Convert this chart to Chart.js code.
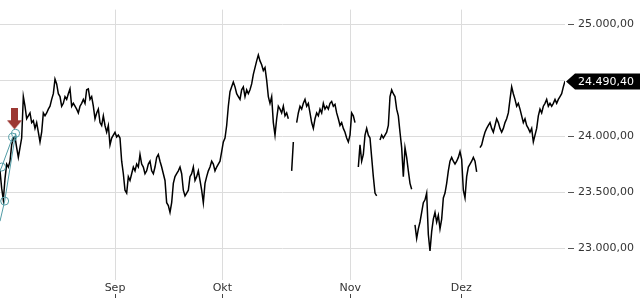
<!DOCTYPE html>
<html>
<head>
<meta charset="utf-8">
<script src="https://cdn.jsdelivr.net/npm/chart.js@4"></script>
<style>
  html, body { margin: 0; padding: 0; background: #fff; }
  #wrap { width: 640px; height: 300px; }
</style>
</head>
<body>
<div id="wrap"><canvas id="kursChart"></canvas></div>
<script>
// Kursverlauf (gleichmäßige Schritte), null = Lücke zwischen Handelstagen
const kurs = [
  23690, 23535, 23431, 23621, 23750, 23724, 23776, 23922, 23983, 23992,
  23897, 23810, 23897, 23983, 24353, 24267, 24155, 24181, 24207, 24121,
  24138, 24069, 24121, 24035, 23948, 24035, 24207, 24181, 24207, 24241,
  24267, 24328, 24379, 24509, 24466, 24379, 24353, 24267, 24293, 24353,
  24328, 24379, 24422, 24267, 24293, 24267, 24241, 24207, 24267, 24293,
  24328, 24293, 24414, 24422, 24328, 24353, 24267, 24155, 24207, 24241,
  24121, 24095, 24181, 24095, 24035, 24095, 23922, 23983, 24009, 24035,
  23992, 24009, 23983, 23776, 23664, 23517, 23491, 23638, 23604, 23664,
  23724, 23690, 23750, 23724, 23836, 23750, 23724, 23664, 23690, 23750,
  23776, 23690, 23664, 23724, 23810, 23836, 23776, 23724, 23664, 23604,
  23405, 23379, 23319, 23405, 23578, 23638, 23664, 23690, 23724, 23664,
  23517, 23466, 23491, 23517, 23638, 23664, 23724, 23604, 23638, 23690,
  23604, 23517, 23405, 23578, 23638, 23690, 23724, 23776, 23750, 23690,
  23724, 23750, 23776, 23862, 23948, 23983, 24095, 24267, 24397, 24440,
  24483, 24440, 24379, 24353, 24328, 24414, 24440, 24353, 24414, 24379,
  24414, 24466, 24552, 24612, 24672, 24724, 24672, 24638, 24586, 24612,
  24500, 24353, 24293, 24353, 24121, 24009, 24155, 24267, 24241, 24207,
  24267, 24181, 24207, 24155, null, 23690, 23948, null, 24121, 24207,
  24267, 24241, 24293, 24328, 24267, 24293, 24207, 24121, 24069, 24155,
  24207, 24181, 24241, 24207, 24293, 24241, 24267, 24241, 24293, 24310,
  24267, 24284, 24207, 24155, 24095, 24121, 24069, 24035, 23983, 23948,
  24009, 24207, 24181, 24121, null, 23724, 23922, 23776, 23836, 24009,
  24069, 24009, 23983, 23810, 23638, 23491, 23466, null, 23966, 24009,
  23983, 24009, 24035, 24095, 24353, 24414, 24379, 24353, 24241, 24181,
  24035, 23897, 23638, 23897, 23810, 23690, 23578, 23526, null, 23207,
  23086, 23172, 23233, 23319, 23405, 23431, 23491, 23121, 22974, 23147,
  23259, 23319, 23233, 23293, 23172, 23259, 23448, 23491, 23578, 23690,
  23776, 23810, 23776, 23750, 23776, 23810, 23862, 23793, 23517, 23448,
  23638, 23724, 23750, 23776, 23810, 23776, 23681, null, 23897, 23922,
  23983, 24035, 24069, 24095, 24121, 24069, 24035, 24095, 24155, 24121,
  24069, 24035, 24069, 24121, 24155, 24207, 24328, 24440, 24379, 24328,
  24267, 24293, 24241, 24181, 24121, 24155, 24095, 24069, 24035, 24069,
  23948, 24009, 24069, 24181, 24241, 24207, 24267, 24293, 24328, 24267,
  24293, 24267, 24293, 24328, 24293, 24328, 24353, 24379, 24440, 24490.40
];

const monatPos = [69, 133.4, 210.2, 276.8];
const monatNamen = ['Sep', 'Okt', 'Nov', 'Dez'];
const yTicks = [23000, 23500, 24000, 24500, 25000];

// Trendlinien links
const trend1X = [0, 2.8, 9.4];
const trend1Y = [23240, 23420, 24025];
const trend2X = [0, 1, 7.6];
const trend2Y = [23690, 23724, 23991];

// Signalpfeil
const pfeilX = [8.7];
const pfeilY = [24155];

function fmt(v) {
    let teile = v.toFixed(2).split('.');
    return teile[0].replace(/\B(?=(\d{3})+(?!\d))/g, '.') + ',' + teile[1];
}

let pfeil = document.createElement('canvas');
pfeil.width = 15;
pfeil.height = 21;
let pc = pfeil.getContext('2d');
pc.fillStyle = '#9c3833';
pc.fillRect(4, 0, 7, 13);
pc.beginPath();
pc.moveTo(0, 12);
pc.lineTo(15, 12);
pc.lineTo(7.5, 21);
pc.closePath();
pc.fill();

const schrift = { family: 'DejaVu Sans', size: 11 };

// Kurslabel rechts + kleine Striche unter den Monatsnamen
const kursLabel = {
    id: 'kursLabel',
    afterDraw(chart) {
        let ctx = chart.ctx;
        let y = chart.scales.y;
        let x = chart.scales.x;
        let wert = kurs[kurs.length - 1];
        let py = Math.round(y.getPixelForValue(wert)) + 0.5;
        let x0 = chart.chartArea.right + 1;
        ctx.save();
        ctx.fillStyle = '#000';
        ctx.beginPath();
        ctx.moveTo(x0, py);
        ctx.lineTo(x0 + 9, py - 8);
        ctx.lineTo(chart.width, py - 8);
        ctx.lineTo(chart.width, py + 8);
        ctx.lineTo(x0 + 9, py + 8);
        ctx.closePath();
        ctx.fill();
        ctx.fillStyle = '#fff';
        ctx.font = '11px "DejaVu Sans"';
        ctx.textBaseline = 'middle';
        ctx.textAlign = 'left';
        ctx.fillText(fmt(wert), x0 + 12, py + 1);
        ctx.strokeStyle = '#444';
        ctx.lineWidth = 1;
        monatPos.forEach(m => {
            let px = Math.round(x.getPixelForValue(m)) + 0.5;
            ctx.beginPath();
            ctx.moveTo(px, 294);
            ctx.lineTo(px, 298);
            ctx.stroke();
        });
        ctx.restore();
    }
};

let ctx = document.getElementById('kursChart').getContext('2d');
let kursChart = new Chart(ctx, {
    type: 'line',
    data: {
        labels: kurs.map((_, i) => i),
        datasets: [{
            label: 'Kurs',
            data: kurs,
            borderColor: '#000',
            borderWidth: 1.5,
            pointRadius: 0,
            tension: 0,
            spanGaps: false,
            order: 2
        }, {
            label: 'Trend 1',
            data: trend1X.map((v, i) => ({ x: v, y: trend1Y[i] })),
            borderColor: 'rgb(82,156,166)',
            borderWidth: 1,
            pointRadius: [0, 4, 4],
            pointBorderColor: 'rgb(82,156,166)',
            pointBackgroundColor: 'rgba(0,0,0,0)',
            pointBorderWidth: 1,
            order: 1
        }, {
            label: 'Trend 2',
            data: trend2X.map((v, i) => ({ x: v, y: trend2Y[i] })),
            borderColor: 'rgb(82,156,166)',
            borderWidth: 1,
            pointRadius: [0, 4, 4],
            pointBorderColor: 'rgb(82,156,166)',
            pointBackgroundColor: 'rgba(0,0,0,0)',
            pointBorderWidth: 1,
            order: 1
        }, {
            label: 'Signal',
            data: pfeilX.map((v, i) => ({ x: v, y: pfeilY[i] })),
            showLine: false,
            pointStyle: pfeil,
            pointRadius: 10,
            order: 0
        }]
    },
    options: {
        responsive: true,
        maintainAspectRatio: false,
        animation: false,
        layout: { padding: 0, autoPadding: false },
        plugins: {
            legend: { display: false },
            tooltip: { enabled: false }
        },
        scales: {
            x: {
                type: 'linear',
                min: 0,
                max: kurs.length - 1,
                afterBuildTicks: s => { s.ticks = monatPos.map(v => ({ value: v })); },
                afterFit: s => { s.height = 20; },
                grid: { color: '#dcdcdc', drawTicks: false },
                border: { display: false },
                ticks: {
                    callback: v => monatNamen[monatPos.indexOf(v)],
                    autoSkip: false,
                    maxRotation: 0,
                    padding: 2,
                    color: '#333',
                    font: schrift
                }
            },
            y: {
                position: 'right',
                min: 22715,
                max: 25130,
                afterBuildTicks: s => { s.ticks = yTicks.map(v => ({ value: v })); },
                afterFit: s => { s.width = 75; },
                grid: {
                    color: '#dcdcdc',
                    tickLength: 10,
                    tickColor: '#555',
                    tickBorderDash: [0, 3, 6, 20]
                },
                border: { display: false },
                ticks: {
                    callback: v => fmt(v),
                    padding: 3,
                    color: '#333',
                    font: schrift
                }
            }
        }
    },
    plugins: [kursLabel]
});
</script>
</body>
</html>
